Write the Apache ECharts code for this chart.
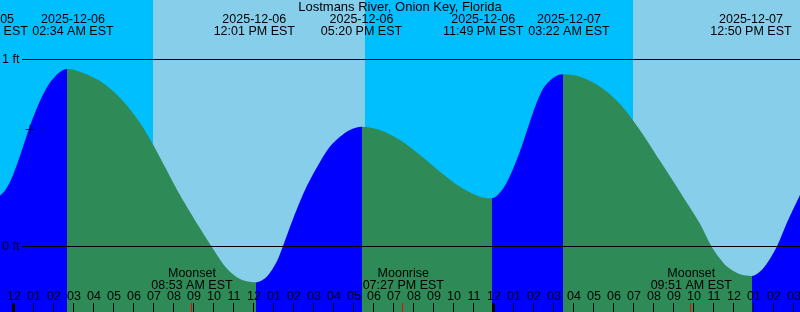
<!DOCTYPE html>
<html><head><meta charset="utf-8">
<script src="https://cdn.jsdelivr.net/npm/echarts@6/dist/echarts.min.js"></script>
<style>html,body{margin:0;padding:0;background:#fff}#c{width:800px;height:312px}</style>
</head><body><div id="c"></div>
<script>
// ---------- data ----------
const chartTitle = 'Lostmans River, Onion Key, Florida';
// hours since 2025-12-06 00:00 EST, tide level in feet
const tideHours = [-0.665,-0.415,-0.165,0.085,0.335,0.585,0.835,1.085,1.335,1.585,1.835,2.085,2.335,2.67,
  3.335,4.335,5.335,6.335,7.0,7.335,8.335,9.335,9.92,10.67,11.335,12.135,
  12.67,13.17,13.47,14.0,14.67,15.335,15.835,16.335,16.835,17.42,
  18.335,19.335,20.335,21.335,22.335,23.335,23.92,
  24.5,25.0,25.5,26.0,26.5,27.0,27.47,
  28.335,29.335,30.335,31.335,32.335,33.335,34.335,34.92,35.67,36.335,36.92,
  37.5,38.17,38.67,39.335];
const tideFeet = [0.272,0.300,0.345,0.410,0.485,0.565,0.645,0.715,0.777,0.832,0.876,0.908,0.932,0.948,
  0.934,0.884,0.795,0.662,0.543,0.476,0.276,0.098,0.0,-0.115,-0.172,-0.190,
  -0.160,-0.080,0.0,0.152,0.322,0.452,0.534,0.587,0.623,0.640,
  0.623,0.569,0.489,0.400,0.320,0.267,0.258,
  0.312,0.418,0.560,0.720,0.845,0.902,0.920,
  0.907,0.854,0.762,0.622,0.458,0.292,0.122,0.0,-0.105,-0.147,-0.156,
  -0.115,0.0,0.125,0.276];
const extremeHours = [2.67, 12.135, 17.42, 23.92, 27.47, 36.92];
const firstSegmentRising = true;

const extremeDates = ['2025-12-05','2025-12-06','2025-12-06','2025-12-06','2025-12-06','2025-12-07','2025-12-07'];
const extremeTimes = ['11:07 PM EST','02:34 AM EST','12:01 PM EST','05:20 PM EST','11:49 PM EST','03:22 AM EST','12:50 PM EST'];
const extremeDateAt = [-1.56, 2.985, 12.05, 17.41, 23.495, 27.785, 36.885];
const extremeTimeAt = [-1.28, 2.985, 12.05, 17.41, 23.495, 27.785, 36.885];

const sunChangeHours = [7.0, 17.585, 31.0];   // sunrise, sunset, sunrise
const startsAtNight = true;

const hourLabels = ['12','01','02','03','04','05','06','07','08','09','10','11',
  '12','01','02','03','04','05','06','07','08','09','10','11',
  '12','01','02','03','04','05','06','07','08','09','10','11',
  '12','01','02','03'];
const midnightHours = [0, 24];

const moonHours = [8.883, 19.45, 33.85];
const moonEvents = ['Moonset','Moonrise','Moonset'];
const moonTimes = ['08:53 AM EST','07:27 PM EST','09:51 AM EST'];

const refLevels = [1, 0];
const refLabels = ['1 ft', '0 ft'];

const markHour = 0.835, markFeet = 0.626;

// ---------- layout / style ----------
const X_MIN = -0.665, X_MAX = 39.335;
const Y_MIN = -0.3485, Y_MAX = 1.3164;
const FONT = '"Liberation Sans", Arial, sans-serif';
const FS = 12.5;
const COL = { day:'#87CEEB', night:'#00BFFF', rise:'#0000FF', fall:'#2E8B57' };

const chart = echarts.init(document.getElementById('c'), null, {renderer:'canvas'});

// background intervals
const bounds = [X_MIN, ...sunChangeHours, X_MAX];
const bgData = [];
for (let i = 0; i < bounds.length - 1; i++) {
  const night = startsAtNight ? (i % 2 === 0) : (i % 2 === 1);
  bgData.push([bounds[i], bounds[i+1], night ? 1 : 0]);
}

// rising / falling pieces
const segBounds = [X_MIN - 1, ...extremeHours, X_MAX + 1];
const pieces = [];
for (let i = 0; i < segBounds.length - 1; i++) {
  const rising = firstSegmentRising ? (i % 2 === 0) : (i % 2 === 1);
  pieces.push({gte: segBounds[i], lt: segBounds[i+1], color: rising ? COL.rise : COL.fall});
}

const tickHours = hourLabels.map((_, i) => i);
const txt = (text, x, y, align) => ({type:'text', x, y, style:{text, fill:'#000', font:FS+'px '+FONT, align: align || 'center', verticalAlign:'middle'}});

const option = {
  animation:false,
  grid:{left:0,right:0,top:0,bottom:0},
  xAxis:{type:'value', min:X_MIN, max:X_MAX, show:false},
  yAxis:{type:'value', min:Y_MIN, max:Y_MAX, show:false},
  visualMap:{type:'piecewise', show:false, dimension:0, seriesIndex:1, pieces},
  graphic:[{type:'text', left:'center', top:1, style:{text:chartTitle, fill:'#000', font:'13px '+FONT}, z:100}],
  series:[
    { type:'custom', z:1, silent:true, data:bgData,
      renderItem:(p, api) => {
        const x1 = Math.round(api.coord([api.value(0), 0])[0]), x2 = Math.round(api.coord([api.value(1), 0])[0]);
        return {type:'rect', shape:{x:x1, y:p.coordSys.y, width:x2-x1, height:p.coordSys.height},
          style:{fill: api.value(2) ? COL.night : COL.day}};
      } },
    { type:'line', data: tideHours.map((h,k)=>[h, tideFeet[k]]), showSymbol:false, symbol:'none', z:2,
      smooth:0.3, lineStyle:{width:0}, areaStyle:{opacity:1, origin:'start'}, silent:true },
    // reference lines
    { type:'custom', z:5, silent:true, data: refLevels.map((v,i)=>[v,i]),
      renderItem:(p, api) => {
        const y = Math.floor(api.coord([0, api.value(0)])[1]) + 0.5;
        const right = p.coordSys.x + p.coordSys.width;
        return {type:'group', children:[
          {type:'line', shape:{x1:22, y1:y, x2:right, y2:y}, style:{stroke:'#000', lineWidth:1}},
          txt(refLabels[api.value(1)], 2, y, 'left')
        ]};
      } },
    // top extreme labels
    { type:'custom', z:6, silent:true, data: extremeDates.map((d,i)=>[extremeDateAt[i], extremeTimeAt[i], i]),
      renderItem:(p, api) => {
        const i = api.value(2);
        const xd = api.coord([api.value(0), 0])[0], xt = api.coord([api.value(1), 0])[0];
        return {type:'group', children:[ txt(extremeDates[i], xd, 19.5), txt(extremeTimes[i], xt, 31.5) ]};
      } },
    // hour ticks and labels
    { type:'custom', z:6, silent:true, data: tickHours.map(h=>[h]),
      renderItem:(p, api) => {
        const h = api.value(0);
        const x = Math.round(api.coord([h, 0])[0]) + 0.5;
        const bottom = p.coordSys.y + p.coordSys.height;
        const mid = midnightHours.indexOf(h) >= 0;
        return {type:'group', children:[
          {type:'line', shape:{x1:x, y1:bottom-9, x2:x, y2:bottom}, style:{stroke:'#000', lineWidth: mid ? 3 : 1}},
          txt(hourLabels[h], x+0.5, 297)
        ]};
      } },
    // moon events
    { type:'custom', z:7, silent:true, data: moonHours.map((h,i)=>[h,i]),
      renderItem:(p, api) => {
        const i = api.value(1);
        const xr = api.coord([api.value(0), 0])[0];
        const x = Math.round(xr) + 0.5;
        const bottom = p.coordSys.y + p.coordSys.height;
        return {type:'group', children:[
          {type:'line', shape:{x1:x, y1:bottom-9, x2:x, y2:bottom}, style:{stroke:'#FF0000', lineWidth:1}},
          txt(moonEvents[i], xr+1, 274),
          txt(moonTimes[i], xr+1, 285.5)
        ]};
      } },
    // plus marker
    { type:'scatter', z:8, silent:true, data:[[markHour, markFeet]],
      symbol:'path://M0,4h9v1h-9zM4,0h1v9h-1z', symbolSize:[9,9],
      itemStyle:{color:'#000'} }
  ]
};
chart.setOption(option);
</script>
</body></html>
